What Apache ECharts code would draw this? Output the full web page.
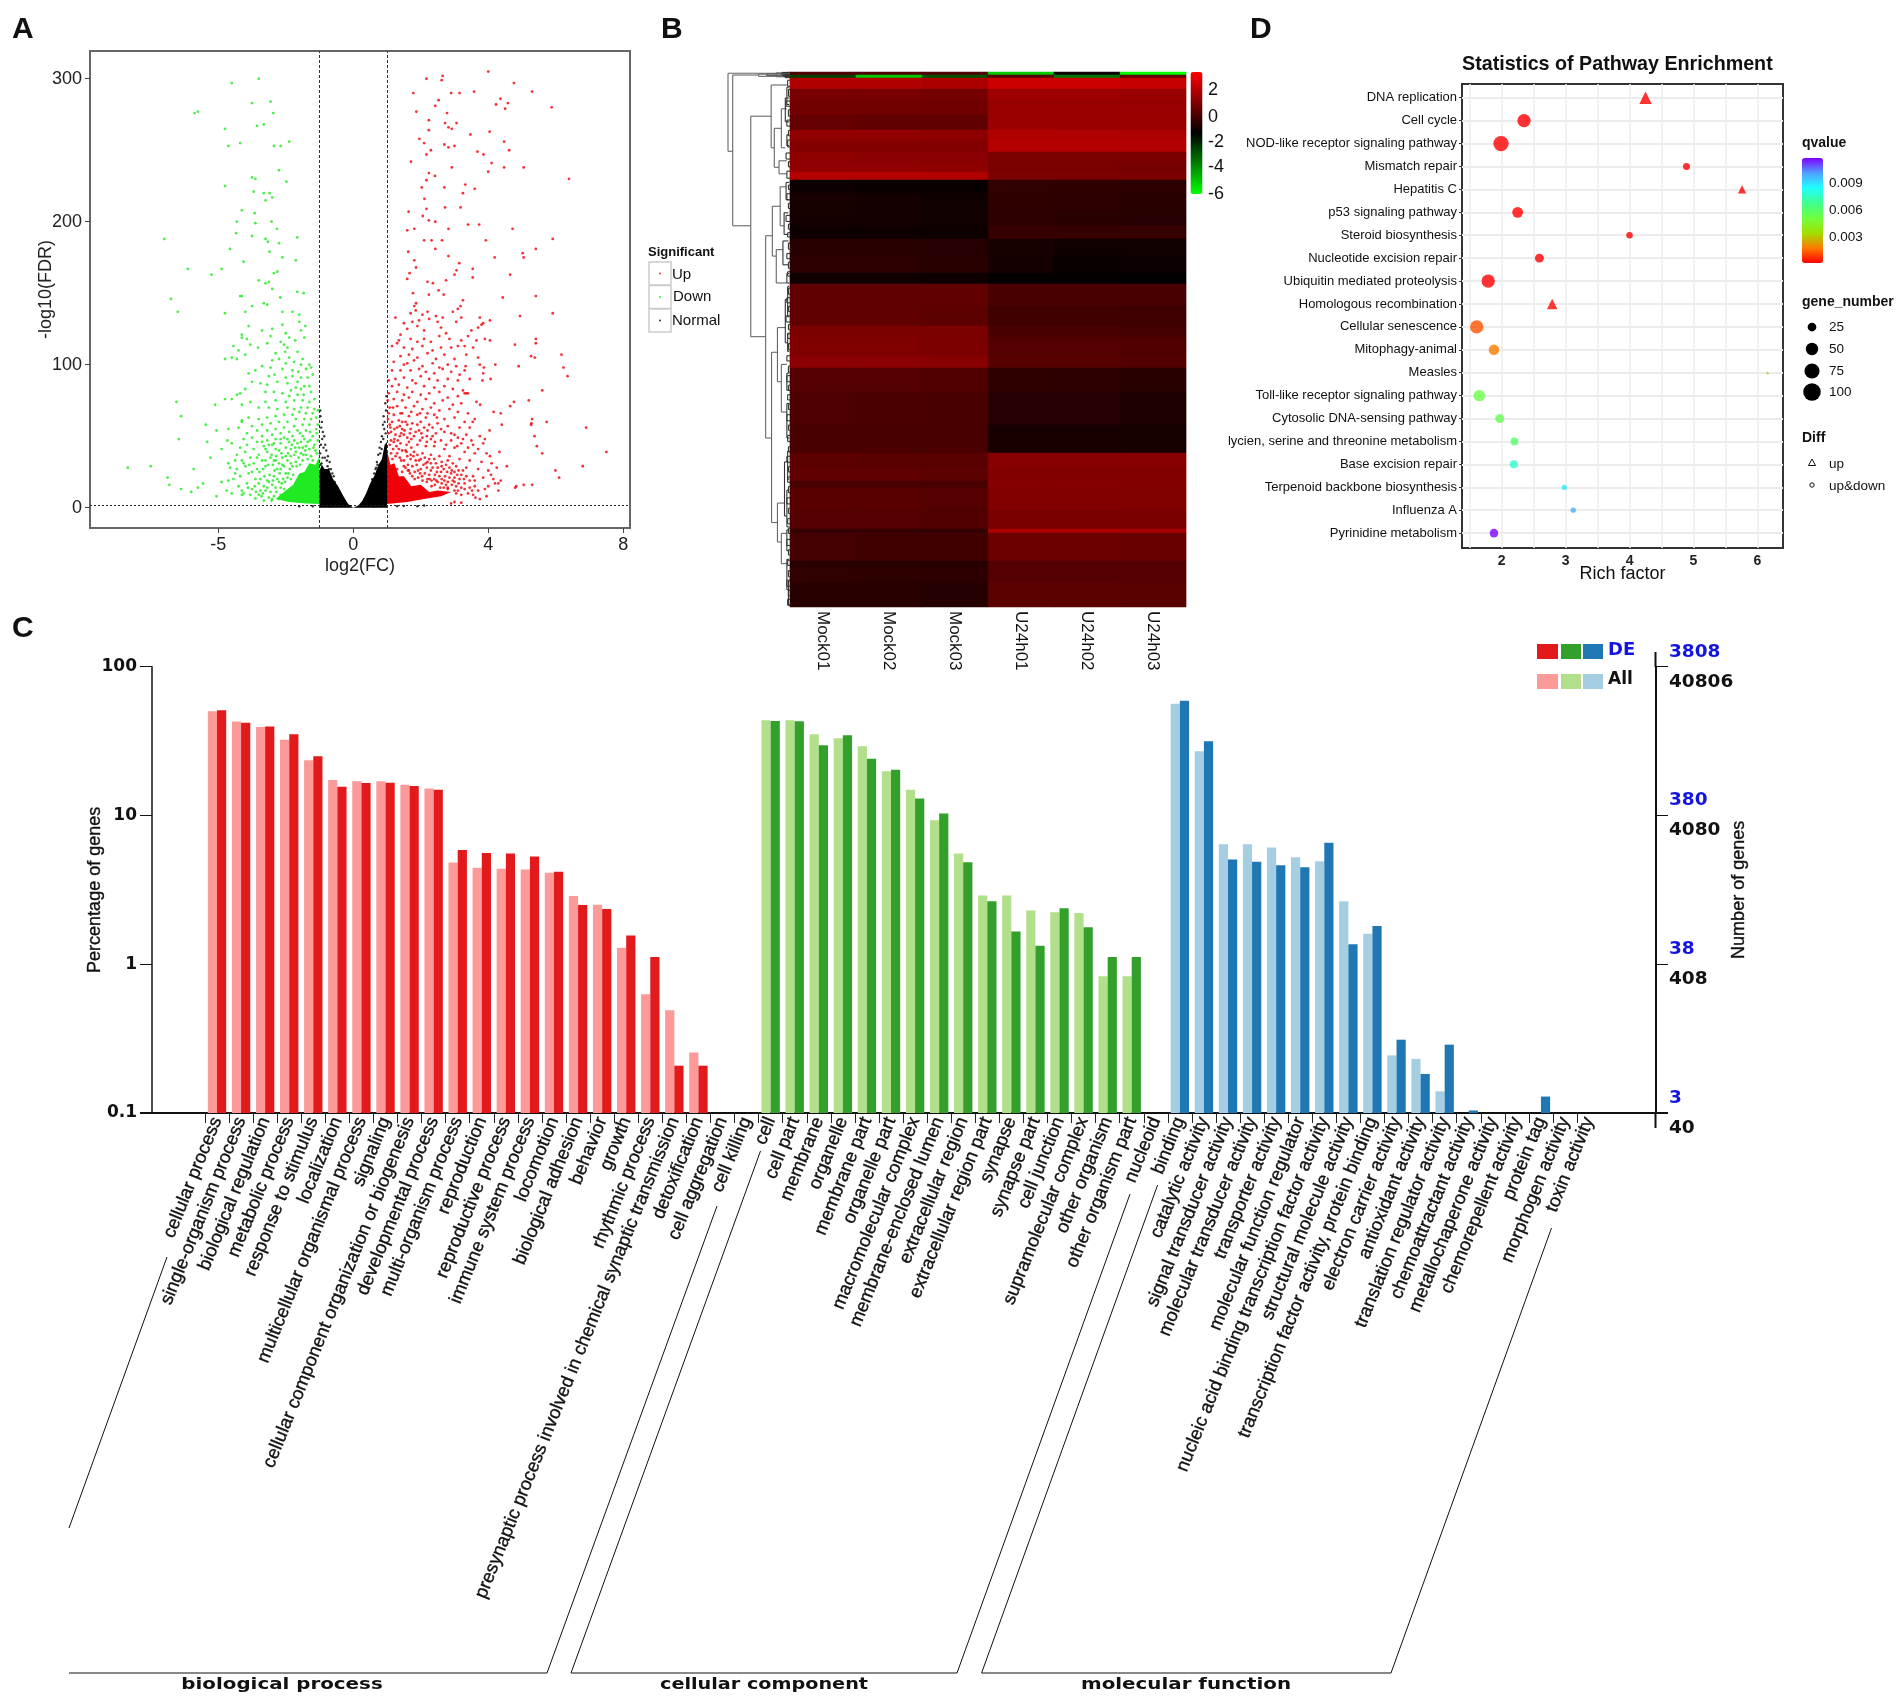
<!DOCTYPE html>
<html><head><meta charset="utf-8">
<style>html,body{margin:0;padding:0;background:#fff}#c{width:1904px;height:1700px}</style>
<script src="https://cdn.jsdelivr.net/npm/echarts@6/dist/echarts.min.js"></script>
</head><body><div id="c"></div>
<script>
/* ---------- Panel A: volcano ---------- */
const volcanoXTicks=[-4,0,4,8];
const volcanoXTickText={'-4':'-5','0':'0','4':'4','8':'8'};
const volcanoYTicks=[0,100,200,300];
const normalCore=[[-1,0],[-1,26],[-0.93,30],[-0.85,27],[-0.72,27],[-0.6,20],[-0.45,15],[-0.29,8],[-0.15,2.5],[0,0],[0.15,1.5],[0.26,4.5],[0.38,10],[0.5,17],[0.62,22],[0.75,30],[0.85,34],[0.93,44],[1,46],[1,0]];
const downCore=[[-1,2.5],[-1,36],[-1.12,30],[-1.3,31],[-1.45,25],[-1.6,24],[-1.78,16],[-2,12],[-2.3,6],[-1.9,4],[-1.4,3]];
const upCore=[[1,2.5],[1,40],[1.1,30],[1.22,31],[1.35,22],[1.5,22],[1.72,15],[2.0,16],[2.25,11],[2.5,12],[2.9,11],[2.6,8],[2.1,6],[1.6,4]];
const normalDots=[[-0.98,68],[-0.97,64],[-0.93,60],[-0.95,56],[-0.9,53],[-0.86,50],[-0.92,48],[-0.83,44],[-0.8,40],[-0.88,42],[-0.75,36],[-0.7,32],[-0.78,33],[-0.66,27],[-0.72,27],[-0.62,24],[-0.55,18],[-0.5,15],[-0.58,22],[-0.42,10],[-0.96,44],[-0.98,38],[-0.91,35],[-0.94,31],[-0.84,35],[-0.76,29],[-0.97,30],[0.98,78],[0.95,73],[0.97,68],[0.9,64],[0.93,60],[0.88,58],[0.92,55],[0.85,50],[0.82,46],[0.89,48],[0.78,42],[0.74,37],[0.8,38],[0.7,32],[0.66,27],[0.72,30],[0.62,24],[0.56,20],[0.5,14],[0.58,19],[0.44,10],[0.35,6],[0.96,52],[0.84,41],[0.68,28],[-1.2,1],[-1.6,1],[-0.7,1],[1.3,1],[1.9,1],[0.6,1],[1.5,1.2],[2.1,1.5]];
const downDots=[[-2.8,300],[-3.6,297],[-3,283],[-2.45,284],[-2.37,276],[-4.6,277],[-4.7,276],[-3.8,265],[-2.65,268],[-2.85,267],[-1.9,256],[-3.35,255],[-3.7,253],[-2.35,253],[-2.15,253],[-2.2,236],[-3,231],[-2.9,230],[-1.98,228],[-3.8,225],[-2.95,221],[-2.65,220],[-2.48,220],[-2.4,217],[-2.6,215],[-3.3,208],[-2.92,206],[-3.45,200],[-2.9,199],[-2.42,200],[-2.26,195],[-3.47,192],[-3,190],[-2.6,188],[-2.53,186],[-1.66,189],[-5.6,188],[-2.2,185],[-3.65,181],[-2.48,179],[-2.1,175],[-3.25,172],[-1.7,173],[-4.9,167],[-3.9,167],[-4.2,163],[-2.35,164],[-2.25,165],[-2.8,159],[-2.6,157],[-2.5,158],[-2.4,153],[-1.66,151],[-1.47,150],[-3.35,148],[-3.3,148],[-2.16,147],[-5.4,146],[-2.65,143],[-2.55,142],[-3,141],[-3.2,137],[-3.8,136],[-5.2,137],[-2.1,137],[-1.8,137],[-1.6,135],
[-1.6,130],[-1.42,127],[-2.1,128],[-2.4,125],[-2.7,124],[-3.1,127],[-3.3,121],[-2.0,122],[-1.9,119],[-1.72,117],[-1.55,124],[-3.15,118],[-3.05,114],[-2.45,120],[-2.15,116],[-2.05,114],[-1.95,112],[-1.45,119],[-2.55,115],[-2.82,112],[-3.4,110],[-3.6,105],[-3.45,104],[-3.2,107],[-2.3,108],[-2.02,109],[-1.9,105],[-1.65,109],[-1.5,104],[-2.4,103],[-2.2,104],[-2.0,101],[-1.75,102],[-1.55,100],[-1.3,100],[-1.25,98],[-1.4,97],[-1.63,95],[-1.8,96],[-2.1,97],[-2.45,98],[-2.7,99],[-2.9,96],[-3.1,94],[-2.5,92],[-2.33,93],[-2.0,91],[-1.8,92],[-1.55,91],[-1.35,91],[-1.2,93],[-3.0,88],[-2.75,87],[-2.55,86],[-2.25,88],[-1.95,87],[-1.65,88],[-1.45,85],[-1.7,84],[-1.85,82],[-1.55,83],[-1.3,85],[-3.2,83],[-3.35,80],[-2.6,81],[-2.35,81],[-2.1,80],[-1.9,78],[-1.65,79],[-1.47,79],[-1.25,81],[-1.15,76],[-1.3,74],[-1.5,75],[-1.75,75],[-2.0,74],[-2.3,75],[-2.6,74],[-3.05,74],[-3.6,76],[-3.3,72],[-2.8,70],[-2.5,70],[-2.25,69],[-1.95,70],[-1.75,69],[-1.55,70],[-1.35,70],[-1.15,69],[-1.05,68],[-1.2,66],[-1.4,66],[-1.6,67],[-1.8,65],[-2.05,65],[-2.3,64],[-2.55,63],[-2.8,62],[-3.1,63],[-3.3,60],[-1.1,63],[-1.25,62],[-1.45,62],[-1.7,62],[-1.95,60],[-2.2,60],[-2.45,59],[-2.7,58],[-3.0,57],[-3.4,56],[-1.05,58],[-1.3,58],[-1.5,58],[-1.75,57],[-2.05,56],[-2.3,55],[-2.55,54],[-2.85,54],[-3.15,52],[-1.1,55],[-1.4,54],[-1.65,54],[-1.9,53],[-2.15,52],[-2.4,51],[-2.7,50],[-3.0,49],[-3.25,48],[-1.2,50],[-1.5,50],[-1.8,50],[-2.05,49],[-2.3,48],[-2.55,47],[-2.85,46],[-3.15,44],[-3.35,42],[-1.9,46],[-2.15,45],[-2.4,44],[-2.65,43],[-2.95,41],[-3.2,39],[-3.45,37],[-2.3,41],[-2.55,39],[-2.8,37],[-3.05,35],[-3.3,33],[-2.45,35],[-2.7,33],[-2.95,31],[-3.2,29],[-3.45,27],[-2.6,29],[-2.85,27],[-3.1,24],[-3.35,22],[-3.55,20],[-2.9,20],[-3.15,17],[-3.4,15],[-3.0,13],[-3.25,10],[-2.8,9],[-1.6,42],[-1.75,37],[-1.4,43],[-2.0,36],[-2.1,30],[-1.85,31],[-2.25,27],[-2.35,22],[-2.5,18],[-2.65,15],[-2.2,18],[-2.75,12],
[-2.2,6],[-2.35,8],[-2.5,7],[-2.6,12],[-2.45,11],[-2.3,14],[-2.15,9],[-2.05,13],[-2.72,8],[-2.9,6.5],[-3.05,9],[-2.8,17],[-2.55,19],[-2.4,16],[-2.25,20],[-2.12,17],[-1.95,21],[-2.0,24],[-2.18,24],[-2.33,26],[-2.48,23],[-2.63,22],[-2.78,25],[-2.92,15],[-3.12,14],[-3.3,12],[-1.88,27],[-2.05,29],[-2.2,31],[-2.38,30],[-2.6,33],[-2.42,37],[-2.28,36],[-2.1,35],[-1.95,33],[-1.8,29],[-1.7,32],[-1.62,35],[-1.5,33],[-1.85,36],[-1.7,39],[-1.55,38],[-1.4,37],[-1.25,36],[-1.12,40],[-1.3,41],[-1.5,42],[-1.65,45],[-1.85,41],[-2.0,42],[-2.2,40],[-1.15,44],[-1.35,46],[-1.05,47],[-1.45,48],[-1.75,47],[-1.95,48],[-2.15,48],[-2.5,44],[-2.7,46],[-1.08,52],[-1.28,53],[-1.58,52],[-1.82,44],[-2.35,33],[-2.67,27],[-3.0,25],[-3.25,31],[-3.5,33],[-2.75,20],[-3.6,10],[-2.42,5],[-2.65,5],[-3.5,24],[-3.65,28],[-3.7,19],
[-1.92,24],[-1.85,20],[-2.08,20],[-2.15,14],[-2.28,11],[-2.4,6],[-1.78,23],[-1.68,29],[-1.58,30],[-1.48,37],[-1.35,34],[-1.2,33],[-1.08,38],[-1.18,42],[-1.42,40],[-1.72,42],[-1.93,38],[-2.13,38],[-2.3,33],[-2.52,30],[-2.15,27],[-2.02,18],[-2.55,14],[-2.38,19],[-2.68,10],[-2.88,11],[-1.28,47],[-1.55,46],[-2.35,45],[-2.6,41],[-2.85,35],[-3.08,30],
[-6.68,28],[-6,29],[-5.5,21],[-5.45,16],[-4.73,27],[-4.8,11],[-4.45,17],[-4.23,35],[-3.9,18],[-4.05,8],[-3.75,12],[-3.3,9],[-5.24,74],[-5.1,64],[-5.17,48],[-4.37,58],[-4.09,72],[-4.05,54],[-4.33,46],[-3.9,41],[-3.7,55],[-3.73,47],[-3.8,76],[-3.44,79],[-3.3,61],[-3.8,104],[-3.55,113],[-3.3,119],[-5.1,13],[-4.6,14],[-3.7,31],[-3.6,45]];
const upDots=[[4,305],[2.65,302],[2.17,300],[2.62,299],[4.76,297],[5.3,291],[1.78,290],[3.58,291],[2.9,290],[3.15,290],[2.53,285],[2.43,281],[4.36,286],[4.23,282],[4.58,283],[4.5,279],[5.88,280],[1.87,277],[2.78,276],[2.24,271],[2.72,269],[3.06,269],[2.82,266],[2.92,265],[2.24,264],[4.04,263],[3.47,261],[1.96,258],[2.1,255],[2.7,254],[2.82,252],[3,253],[4.47,256],[4.62,250],[2.3,250],[2.17,247],[3.68,249],[3.86,247],[1.71,242],[4.1,241],[4,235],[4.47,238],[5.05,238],[2.92,238],[6.39,230],[2.24,234],[2.42,232],[2.17,229],[2.03,224],[2.7,224],[3.6,223],[3.25,220],[3.32,226],[2.11,216],[3.18,210],[2.72,210],[2.17,209],[1.64,207],[2.06,204],[2.24,201],[2.43,200],[3.4,198],[3.73,198],[1.6,194],[1.81,195],[2.82,195],[4.72,195],[5.91,188],[3.93,187],[2.1,187],[2.32,187],[2.63,187],[2.43,181],[1.63,179],[5.41,181],[5.02,178],[5.05,175],[4.19,175],[2.82,176],[1.81,173],[3.14,171],[1.86,168],[3.06,166],[3.54,167],[1.67,164],[3,163],[4.65,163],[1.6,160],[2.2,158],[2.75,159],[2.36,157],[3.54,161],[2.53,152],[1.77,150],[2.24,149],[2.68,149],[5.41,148],[4.43,147],[3.25,145],[1.86,143],[3.18,141],[5.91,136],[1.81,141],[4.94,134],
[1.85,138],[1.7,136],[2.05,135],[2.2,137],[2.45,134],[2.95,137],[3.1,139],[3.2,133],[1.75,130],[1.95,131],[2.25,132],[2.5,130],[2.65,133],[3.05,130],[3.75,133],[3.85,129],[4.05,131],[1.25,133],[1.5,129],[1.6,125],[1.4,121],[1.9,127],[2.1,124],[2.6,126],[2.75,122],[3.5,124],[3.8,128],[3.7,126],[1.35,117],[1.3,115],[1.7,118],[1.9,116],[2.1,118],[2.3,116],[2.55,120],[2.85,118],[3.2,117],[3.4,120],[3.65,117],[3.9,118],[4.05,117],[1.15,113],[1.5,112],[1.75,111],[2.05,113],[2.35,110],[2.6,112],[2.9,112],[3.1,113],[3.3,113],[3.55,112],[1.4,106],[1.65,107],[1.9,105],[2.2,108],[2.45,104],[2.7,107],[3.0,104],[3.35,107],[3.7,105],[1.2,102],[1.5,100],[1.6,101],[1.8,103],[2.05,99],[2.35,101],[2.55,98],[2.8,100],[3.05,99],[3.3,96],[3.75,100],[1.15,96],[1.4,96],[1.7,96],[1.95,97],[2.15,95],[2.4,94],[2.65,97],[2.9,95],[3.15,93],[3.85,94],[1.05,89],[1.25,90],[1.5,91],[1.75,89],[2.0,92],[2.25,90],[2.5,89],[2.8,90],[3.1,89],[3.45,90],[1.15,85],[1.35,86],[1.6,84],[1.85,87],[2.1,85],[2.4,84],[2.7,85],[2.95,83],[3.25,82],[1.05,80],[1.3,81],[1.5,79],[1.75,81],[2.0,79],[2.25,80],[2.55,81],[2.8,77],[3.1,78],[3.35,80],[1.02,75],[1.2,76],[1.45,75],[1.65,77],[1.9,74],[2.15,76],[2.4,73],[2.65,75],[2.95,72],[3.2,73],[3.65,74],[1.08,70],[1.3,71],[1.55,70],[1.8,71],[2.05,69],[2.3,70],[2.55,68],[2.85,69],[3.1,67],[3.4,66],[1.05,66],[1.2,65],[1.4,66],[1.65,64],[1.9,65],[2.15,63],[2.4,65],[2.7,62],[3.0,63],[3.3,60],[3.6,62],[1.03,62],[1.15,60],[1.35,61],[1.55,60],[1.75,59],[2.0,60],[2.25,58],[2.5,59],[2.8,57],[3.15,56],[3.45,56],[1.1,56],[1.3,56],[1.45,55],[1.7,55],[1.95,54],[2.2,54],[2.45,52],[2.7,53],[3.0,51],[3.35,51],[3.75,50],[1.05,52],[1.25,51],[1.5,51],[1.8,50],[2.05,49],[2.3,48],[2.6,47],[2.9,47],[3.2,45],[3.55,44],[3.85,45],[1.2,46],[1.4,45],[1.65,46],[1.9,44],[2.15,43],[2.4,43],[2.7,41],[3.0,42],[3.3,39],[3.6,38],[3.95,38],[1.35,41],[1.55,40],[1.8,39],[2.05,38],[2.3,37],[2.55,36],[2.85,36],[3.15,34],[3.45,33],[3.8,32],[4.1,31],[1.7,34],[1.95,33],[2.2,32],[2.45,31],[2.75,30],[3.05,29],[3.35,28],[3.7,27],[4.0,26],[2.0,27],[2.3,26],[2.6,25],[2.9,24],[3.2,23],[3.55,22],[3.85,21],[4.15,20],[2.4,20],[2.7,19],[3.0,18],[3.3,17],[3.6,15],[3.9,13],[4.2,17],[2.8,14],[3.1,12],[3.4,10],[3.7,12],[3.75,6],[3,4],[2.9,3],
[1.12,53],[1.22,48],[1.32,47],[1.42,52],[1.58,44],[1.72,42],[1.12,47],[1.28,43],[1.45,40],[1.6,36],[1.78,36],[1.9,37],[2.12,35],[2.25,34],[2.4,34],[2.62,32],[2.8,33],[2.95,31],[1.5,33],[1.62,30],[1.75,29],[1.88,30],[2.08,30],[2.18,28],[2.35,28],[2.5,28],[2.68,27],[2.85,28],[3.0,25],[3.12,26],[3.25,26],[1.65,26],[1.82,25],[1.98,24],[2.12,24],[2.25,23],[2.42,23],[2.55,22],[2.72,22],[2.85,21],[3.0,21],[3.15,20],[3.35,22],[3.45,19],[3.6,19],[2.2,20],[2.32,19],[2.5,18],[2.62,17],[2.75,16],[2.92,16],[3.05,15],[3.2,14],[3.3,13],[3.45,14],[3.52,12],[3.05,10],[3.2,9],[3.55,9],[3.62,7],[1.45,60],[1.6,58],[1.9,58],[2.1,56],[2.35,56],[2.6,55],[2.9,52],[3.1,49],[3.25,48],[3.5,47],[1.38,50],[1.6,49],[1.72,48],[1.98,47],[2.18,46],[2.42,46],[2.75,44],[3.08,43],[3.4,42],[3.7,41],[4.05,36],[4.25,28],[4.08,23],[4.3,12],[4.0,15],[3.95,8],[3.2,3.5],
[1.08,44],[1.18,41],[1.3,38],[1.42,33],[1.55,28],[1.68,24],[1.82,20],[1.92,21],[2.05,19],[2.18,18],[2.32,15],[2.42,16],[2.58,14],[2.68,14],[2.8,13],[3.0,12],[1.25,36],[1.38,35],[1.5,29],[1.62,26],[1.75,22],[1.12,38],[1.16,34],[1.3,27],[1.45,25],[1.92,26],[2.04,22],[2.26,20],[2.46,19],[2.62,20],[2.8,18],[2.95,19],[3.12,17],[1.58,39],[1.7,37],[1.85,33],[2.0,34],[2.15,31],[2.3,31],[2.48,25],[2.62,29],[2.78,25],[2.92,26],[3.08,23],[3.28,20],[1.08,58],[1.22,55],[1.38,57],[1.52,54],[1.68,52],[1.85,53],[2.02,52],[2.18,50],[2.35,50],[1.18,70],[1.45,66],[1.72,67],[1.98,66],[2.2,66],[2.48,63],
[7.5,39],[6.9,56],[6.8,29],[5.99,26],[6.1,21],[5.73,60],[5.28,59],[5.27,58],[5.37,50],[5.44,43],[5.6,38],[5.2,75],[5.6,82],[4.65,71],[4.76,74],[5.3,62],[4.83,15],[5.05,16],[5.3,16],[4.8,14],[4.55,29],[4.33,39],[4.37,19],[4.3,17],[6.17,107],[6.23,98],[6.35,92],[5.41,118],[5.41,115],[4.79,114],[5.27,106],[5.38,105],[4.9,99],[4.21,100],[3.87,98],[3.33,99],[3.83,89],[4.07,90],[3.4,80],[3.3,80],[4.16,67],[4.37,66],[4.4,58],[4.04,54],[3.9,48],[3.54,60],[3.76,72]];
/* ---------- Panel B: heat map ---------- */
const sampleNames=['Mock01','Mock02','Mock03','U24h01','U24h02','U24h03'];
const heatBandRows=[3,3,11,11,15,15,11,11,11,9,8,13,20,13,13,17,17,11,22,20,11,20,11,24,33,28,15,13,7,22,19,4,28,7,15,24];
const heatMock01=[0.2,-2.5,2.0,0.95,0.85,0.6,1.4,1.15,1.35,1.4,2.05,-1.05,-0.85,-0.9,-1.0,-0.5,-0.45,-0.95,0.55,0.5,1.0,1.1,1.3,0.3,0.15,0.05,0.45,0.5,0.1,0.35,0.3,-0.3,0.0,-0.5,-0.35,-0.5];
const heatMock02=[0.2,-5,2.0,0.95,0.85,0.55,1.4,1.15,1.3,1.4,2.05,-1.1,-0.9,-0.9,-1.0,-0.5,-0.45,-0.95,0.55,0.5,1.0,1.1,1.3,0.3,0.12,0.05,0.4,0.5,0.1,0.35,0.3,-0.3,-0.05,-0.5,-0.4,-0.5];
const heatMock03=[0.2,-2.8,1.9,0.9,0.8,0.55,1.35,1.15,1.3,1.35,2.0,-1.1,-0.95,-0.95,-1.05,-0.55,-0.5,-1.0,0.55,0.45,1.0,1.05,1.25,0.25,0.1,0.05,0.4,0.45,0.05,0.3,0.25,-0.35,-0.05,-0.55,-0.45,-0.6];
const heatU24h01=[-5,0.3,2.5,1.65,1.55,1.6,2.0,2.1,1.0,0.95,1.0,-0.35,-0.4,-0.45,-0.25,-0.85,-0.9,-1.2,0.1,-0.05,0.05,0.3,0.35,-0.4,-0.55,-0.8,1.25,1.15,1.2,1.15,0.95,1.9,0.7,0.3,0.3,0.45];
const heatU24h02=[-1,-3.5,2.5,1.65,1.55,1.55,2.0,2.1,1.0,0.95,1.0,-0.4,-0.45,-0.5,-0.3,-0.95,-1.1,-1.2,0.1,-0.05,0.05,0.3,0.35,-0.45,-0.55,-0.8,1.25,1.15,1.2,1.15,0.95,1.9,0.7,0.3,0.3,0.45];
const heatU24h03=[-6,0.5,2.4,1.6,1.5,1.55,1.95,2.05,0.95,0.9,1.0,-0.45,-0.5,-0.55,-0.3,-0.95,-1.05,-1.25,0.05,-0.1,0.0,0.25,0.3,-0.5,-0.7,-0.85,1.2,1.15,1.15,1.1,0.95,1.85,0.65,0.3,0.3,0.4];
const heatSamples=[heatMock01,heatMock02,heatMock03,heatU24h01,heatU24h02,heatU24h03];
/* dendrogram nodes: height, top leaf row, bottom leaf row, top child height, bottom child height */
const dendroNodes=[[222,168,348,380,234],[234,172,520,300,280],[300,170,175,380,380],[320,169,173,380,380],[345,167,176,380,380],[280,267,776,332,318],[332,195,340,372,340],[340,295,385,358,352],[358,250,340,372,368],[352,370,400,372,372],[368,225,280,378,378],[372,200,240,378,378],[372,310,335,378,378],[318,543,1010,335,333],[335,475,590,355,345],[355,430,520,370,365],[370,420,460,378,378],[365,490,540,376,376],[345,575,652,362,372],[362,555,610,376,376],[372,630,652,378,378],[333,812,1205,348,348],[348,755,880,368,358],[368,690,790,374,374],[358,840,950,372,372],[374,660,730,378,378],[374,770,810,378,378],[372,860,900,378,378],[372,930,1010,378,378],[348,1160,1250,366,358],[366,1065,1190,374,372],[374,1040,1105,378,378],[372,1130,1215,378,378],[358,1230,1300,372,372],[372,1222,1270,378,378],[372,1290,1360,378,378],[376,1340,1395,380,380]];
const dendroTwigs=[[360,166,6],[364,170,5],[368,172,6],[372,166,10],[374,184,14],[376,205,16],[370,232,12],[376,252,15],[372,276,14],[376,300,12],[374,322,16],[370,352,14],[376,372,12],[372,394,16],[376,426,10],[372,446,14],[376,468,12],[370,496,14],[376,516,12],[374,536,10],[376,560,14],[372,584,12],[376,604,14],[374,626,10],[376,664,14],[372,686,12],[376,706,12],[370,728,14],[376,748,12],[374,768,12],[376,792,14],[372,820,12],[376,844,14],[372,866,14],[376,888,12],[374,910,12],[376,932,12],[372,956,14],[376,980,12],[374,1004,14],[376,1030,12],[372,1052,14],[376,1076,12],[374,1100,12],[376,1122,14],[372,1148,14],[376,1172,12],[374,1196,12],[376,1218,12],[372,1244,14],[376,1268,12],[374,1292,12],[376,1316,14],[372,1338,14],[376,1362,12],[374,1382,14]];
/* ---------- Panel C: GO bars ---------- */
const goTerms=['cellular process','single-organism process','biological regulation','metabolic process','response to stimulus','localization','multicellular organismal process','signaling','cellular component organization or biogenesis','developmental process','multi-organism process','reproduction','reproductive process','immune system process','locomotion','biological adhesion','behavior','growth','rhythmic process','presynaptic process involved in chemical synaptic transmission','detoxification','cell aggregation','cell killing',
'cell','cell part','membrane','organelle','membrane part','organelle part','macromolecular complex','membrane-enclosed lumen','extracellular region','extracellular region part','synapse','synapse part','cell junction','supramolecular complex','other organism','other organism part','nucleoid',
'binding','catalytic activity','signal transducer activity','molecular transducer activity','transporter activity','molecular function regulator','nucleic acid binding transcription factor activity','structural molecule activity','transcription factor activity, protein binding','electron carrier activity','antioxidant activity','translation regulator activity','chemoattractant activity','metallochaperone activity','chemorepellent activity','protein tag','morphogen activity','toxin activity'];
const bpAll=[50.1,42.9,39.3,32.3,23.5,17.3,17,17,16.1,15.2,4.82,4.46,4.39,4.34,4.12,2.88,2.51,1.29,0.628,0.49,0.255,null,null];
const bpDE=[50.9,42,39.7,35.1,25,15.6,16.5,16.6,15.8,14.9,5.86,5.6,5.56,5.29,4.19,2.5,2.35,1.56,1.12,0.208,0.208,null,null];
const ccAll=[43.6,43.6,35.1,33,29.2,19.8,14.9,9.27,5.56,2.9,2.9,2.3,2.24,2.21,0.83,0.83,null];
const ccDE=[43.2,43,29.6,34.6,24.1,20.3,13,10.3,4.84,2.65,1.66,1.33,2.38,1.77,1.12,1.12,null];
const mfAll=[56.4,27,6.4,6.4,6.1,5.24,4.92,2.65,1.6,0.244,0.231,0.14,null,null,null,null,null,null];
const mfDE=[59.1,31.5,5.05,4.89,4.62,4.48,6.56,1.36,1.81,0.311,0.183,0.288,0.104,null,null,0.129,null,null];
const rightTickDE={'100':'3808','10':'380','1':'38','0.1':'3'};
const rightTickAll={'100':'40806','10':'4080','1':'408','0.1':'40'};
/* ---------- Panel D: pathway enrichment ---------- */
const pathwayNames=['DNA replication','Cell cycle','NOD-like receptor signaling pathway','Mismatch repair','Hepatitis C','p53 signaling pathway','Steroid biosynthesis','Nucleotide excision repair','Ubiquitin mediated proteolysis','Homologous recombination','Cellular senescence','Mitophagy-animal','Measles','Toll-like receptor signaling pathway','Cytosolic DNA-sensing pathway','lycien, serine and threonine metabolism','Base excision repair','Terpenoid backbone biosynthesis','Influenza A','Pyrinidine metabolism'];
const richFactor=[4.25,2.35,1.99,4.89,5.76,2.25,4.0,2.59,1.79,2.79,1.61,1.88,6.16,1.65,1.97,2.2,2.19,2.98,3.12,1.88];
const geneNumber=[50,58,76,16,22,38,14,26,58,36,58,36,3,43,26,20,22,9,9,24];
const qValue=[0,0,0,0,0,0,0,0,0,0.0001,0.0011,0.0017,0.003,0.0052,0.0054,0.0060,0.0076,0.0088,0.0098,0.0117];
const diffClass=['up','ud','ud','ud','up','ud','ud','ud','ud','up','ud','ud','up','ud','ud','ud','ud','ud','ud','ud'];
const richTicks=[2,3,4,5,6];
const richGrid=[1.5,2,2.5,3,3.5,4,4.5,5,5.5,6];

const F='"Liberation Sans",Arial,sans-serif', FW='"DejaVu Sans",sans-serif';
const RED='#f00008',GREEN='#22ea22';
const geneSize=n=>1.75*Math.sqrt(n);
const GO_LOG_SCALE=10; /* bars rise from the axis foot: the log axis base 1 stands for 0.1 % */
const heatData=[];let rowCursor=0;
heatBandRows.forEach((n,b)=>{for(let r=0;r<n;r++){heatSamples.forEach((s,c)=>heatData.push([c,rowCursor,s[b]]));rowCursor++;}});
const rowNames=Array.from({length:rowCursor},(_,i)=>String(i));
const dendroSegs=[];
dendroNodes.forEach(([h,a,b,ca,cb])=>{dendroSegs.push([h,a,h,b],[h,a,ca,a],[h,b,cb,b]);});
dendroTwigs.forEach(([h,y,d])=>{dendroSegs.push([h,y,h,y+d],[h,y,380,y],[h,y+d,380,y+d]);});
const polygonSeries=(pts,color)=>({type:'custom',xAxisIndex:0,yAxisIndex:0,silent:true,clip:true,data:pts,
  encode:{x:0,y:1},renderItem:(p,api)=>p.dataIndex?null:{type:'polygon',shape:{points:pts.map(q=>api.coord(q))},style:{fill:color}}});
const dots=(pts,color,extra)=>Object.assign({type:'scatter',xAxisIndex:0,yAxisIndex:0,symbolSize:2.8,silent:true,large:false,data:pts,itemStyle:{color}},extra||{});
const goBars=(seq,i0,color)=>seq.map((v,i)=>v==null?null:{value:[i0+i,v*GO_LOG_SCALE],itemStyle:{color}}).filter(Boolean);
const allBars=[...goBars(bpAll,0,'#fb9a99'),...goBars(ccAll,23,'#b2df8a'),...goBars(mfAll,40,'#a6cee3')];
const deBars=[...goBars(bpDE,0,'#e31a1c'),...goBars(ccDE,23,'#33a02c'),...goBars(mfDE,40,'#1f78b4')];
const pathwayPoints=k=>pathwayNames.map((n,i)=>[richFactor[i],i,geneNumber[i],qValue[i],n]).filter((d,i)=>diffClass[i]===k);

const series=[
 polygonSeries(downCore,GREEN),polygonSeries(upCore,RED),
 dots(downDots,GREEN),
 dots(upDots,RED),
 polygonSeries(normalCore,'#000'),
 dots(normalDots,'#000',{symbolSize:2.4,markLine:{silent:true,symbol:'none',label:{show:false},animation:false,data:[
   {xAxis:-1,lineStyle:{type:[3,2],color:'#333',width:1}},{xAxis:1,lineStyle:{type:[3,2],color:'#333',width:1}},
   {yAxis:2,lineStyle:{type:[2,2],color:'#222',width:1.2}}]}}),
 {type:'heatmap',xAxisIndex:1,yAxisIndex:1,data:heatData,progressive:0,silent:true,itemStyle:{borderWidth:0}},
 {type:'custom',xAxisIndex:2,yAxisIndex:2,silent:true,data:dendroSegs,clip:false,encode:{x:[0,2],y:[1,3]},
  renderItem:(p,api)=>{const a=api.coord([api.value(0),api.value(1)]),b=api.coord([api.value(2),api.value(3)]);
   return {type:'line',shape:{x1:a[0],y1:a[1],x2:b[0],y2:b[1]},style:{stroke:api.value(0)>=360?'#333':'#666',lineWidth:1.1}};}},
 {type:'bar',name:'All',xAxisIndex:3,yAxisIndex:3,data:allBars,barWidth:9.2,barGap:'0%',silent:true},
 {type:'bar',name:'DE',xAxisIndex:3,yAxisIndex:3,data:deBars,barWidth:9.2,barGap:'0%',silent:true},
 {type:'scatter',name:'up',xAxisIndex:4,yAxisIndex:5,symbol:'triangle',symbolSize:d=>geneSize(d[2]),data:pathwayPoints('up'),silent:true},
 {type:'scatter',name:'up&down',xAxisIndex:4,yAxisIndex:5,symbol:'circle',symbolSize:d=>geneSize(d[2]),data:pathwayPoints('ud'),silent:true}
];
const T=(text,x,y,o,sx)=>({type:'text',x,y,scaleX:sx||1,silent:true,style:Object.assign({text,font:`15px ${F}`,fill:'#111',textAlign:'left',textVerticalAlign:'middle'},o||{})});
const L=(x1,y1,x2,y2,w,c)=>({type:'line',silent:true,shape:{x1,y1,x2,y2},style:{stroke:c||'#111',lineWidth:w||1}});
const R=(x,y,w,h,fill,stroke)=>({type:'rect',silent:true,shape:{x,y,width:w,height:h},style:{fill,stroke:stroke||null,lineWidth:stroke?1.5:0}});
const Cir=(cx,cy,r,fill,stroke)=>({type:'circle',silent:true,shape:{cx,cy,r},style:{fill,stroke:stroke||null,lineWidth:1}});
const graphic=[
 T('A',12,30,{font:`bold 30px ${F}`}),T('B',661,30,{font:`bold 30px ${F}`}),T('C',12,629,{font:`bold 30px ${F}`}),T('D',1250,30,{font:`bold 30px ${F}`}),
 /* significant legend */
 T('Significant',648,252.5,{font:`bold 13px ${F}`}),
 R(649,262,22,23,'#fff','#ccc'),R(649,285.5,22,23,'#fff','#ccc'),R(649,309,22,23,'#fff','#ccc'),
 Cir(660,273.5,.9,'#e22'),Cir(660,297,.9,'#2e2'),Cir(660,320.5,.9,'#222'),
 T('Up',672,275,{font:`15px ${F}`}),T('Down',673,297,{font:`15px ${F}`}),T('Normal',672,320.5,{font:`15px ${F}`}),
 /* heat colour bar labels */
 ...[['2',90],['0',117],['-2',142],['-4',167],['-6',194]].map(([s,y])=>T(s,1208,y,{font:`18px ${F}`})),
 /* panel C extras */
 L(140,1113,152,1113,2,'#111'),L(1656,1113,1668,1113,2,'#111'),L(1655.5,652,1655.5,667,2,'#111'),L(1655.5,1113,1655.5,1128,2,'#111'),
 R(1537,644,21,15,'#e31a1c'),R(1561,644,20,15,'#33a02c'),R(1583,644,20,15,'#1f78b4'),
 R(1537,674,21,15,'#fb9a99'),R(1561,674,20,15,'#b2df8a'),R(1583,674,20,15,'#a6cee3'),
 T('DE',1608,650,{font:`bold 18px ${FW}`,fill:'#1414e0'}),T('All',1608,680,{font:`bold 17px ${FW}`,fill:'#111'}),
 /* bracket lines */
 {type:'polyline',silent:true,shape:{points:[[167,1257],[69,1528]]},style:{stroke:'#111',fill:null,lineWidth:1}},
 {type:'polyline',silent:true,shape:{points:[[69,1673],[547,1673],[717,1206]]},style:{stroke:'#111',fill:null,lineWidth:1}},
 {type:'polyline',silent:true,shape:{points:[[760.5,1151],[571,1673],[957,1673],[1130,1194]]},style:{stroke:'#111',fill:null,lineWidth:1}},
 {type:'polyline',silent:true,shape:{points:[[1157.6,1185],[981.6,1673],[1391,1673],[1551.5,1228]]},style:{stroke:'#111',fill:null,lineWidth:1}},
 T('biological process',282,1685,{font:`bold 16px ${FW}`,textAlign:'center'},1.24),
 T('cellular component',764,1685,{font:`bold 16px ${FW}`,textAlign:'center'},1.2),
 T('molecular function',1186,1685,{font:`bold 16px ${FW}`,textAlign:'center'},1.24),
 /* panel D extras */
 T('Statistics of Pathway Enrichment',1462,65,{font:`bold 19.7px ${F}`}),
 T('qvalue',1802,143,{font:`bold 14px ${F}`}),
 L(1802,182,1806,182,1,'#fff'),L(1819,182,1823,182,1,'#fff'),L(1802,209,1806,209,1,'#fff'),L(1819,209,1823,209,1,'#fff'),L(1802,236,1806,236,1,'#fff'),L(1819,236,1823,236,1,'#fff'),
 T('0.009',1829,183,{font:`13.5px ${F}`}),T('0.006',1829,210,{font:`13.5px ${F}`}),T('0.003',1829,237,{font:`13.5px ${F}`}),
 T('gene_number',1802,302,{font:`bold 14px ${F}`}),
 ...[[327,25],[349,50],[371,75],[392,100]].map(([y,n])=>Cir(1812,y,geneSize(n)/2,'#000')),
 ...[[327,'25'],[349,'50'],[371,'75'],[392,'100']].map(([y,s])=>T(s,1829,y,{font:`13.5px ${F}`})),
 T('Diff',1802,438,{font:`bold 14px ${F}`}),
 {type:'polygon',silent:true,shape:{points:[[1812,459],[1815.5,465.5],[1808.5,465.5]]},style:{fill:null,stroke:'#111',lineWidth:1}},
 Cir(1812,485,2.2,null,'#111'),
 T('up',1829,464,{font:`13.5px ${F}`}),T('up&down',1829,486,{font:`13.5px ${F}`})
];
const heavy={textBorderColor:'#111',textBorderWidth:0.35};
const option={
 animation:false,backgroundColor:'#fff',textStyle:{fontFamily:F},
 grid:[
  {left:90,top:51,width:540,height:477,show:true,borderColor:'#666',borderWidth:2,backgroundColor:'#fff'},
  {left:790,top:72,width:396,height:535},
  {left:728,top:72,width:62,height:535},
  {left:152,top:666.7,width:1504,height:446.3},
  {left:1462,top:84,width:321,height:464,show:true,borderColor:'#333',borderWidth:2,backgroundColor:'#fff'}
 ],
 xAxis:[
  {type:'value',gridIndex:0,min:-7.8,max:8.2,name:'log2(FC)',nameLocation:'middle',nameMoveOverlap:false,nameGap:29,nameTextStyle:{fontSize:18,color:'#222'},
   axisLine:{show:false,onZero:false},splitLine:{show:false},axisTick:{customValues:volcanoXTicks,length:5,lineStyle:{color:'#444'}},
   axisLabel:{customValues:volcanoXTicks,formatter:v=>volcanoXTickText[v],fontSize:18,color:'#222',margin:8}},
  {type:'category',gridIndex:1,data:sampleNames,axisLine:{show:false},axisTick:{show:false},
   axisLabel:{rotate:-90,fontSize:17,color:'#111',margin:4}},
  {type:'value',gridIndex:2,min:222,max:380,show:false},
  {type:'value',gridIndex:3,min:-2.7,max:59.78,axisLine:{onZero:false,lineStyle:{color:'#111',width:2}},splitLine:{show:false},
   axisTick:{customValues:goTerms.map((_,i)=>i-0.5),length:10,lineStyle:{color:'#222',width:1}},
   axisLabel:{customValues:goTerms.map((_,i)=>i),formatter:v=>goTerms[Math.round(v)],rotate:68,fontSize:18.5,color:'#111',margin:5,hideOverlap:false,...heavy}},
  {type:'value',gridIndex:4,min:1.38,max:6.4,name:'Rich factor',nameLocation:'middle',nameMoveOverlap:false,nameGap:17,nameTextStyle:{fontSize:18,color:'#111'},
   axisLine:{show:false,onZero:false},axisTick:{show:false,customValues:richGrid},splitLine:{show:true,lineStyle:{color:'#ececec',width:1.5}},
   axisLabel:{customValues:richTicks,fontSize:14,color:'#222',margin:6,fontWeight:'bold'}}
 ],
 yAxis:[
  {type:'value',gridIndex:0,min:-14.2,max:319.4,name:'-log10(FDR)',nameLocation:'middle',nameMoveOverlap:false,nameGap:35,nameTextStyle:{fontSize:18,color:'#222'},
   axisLine:{show:false,onZero:false},splitLine:{show:false},axisTick:{customValues:volcanoYTicks,length:5,lineStyle:{color:'#444'}},
   axisLabel:{customValues:volcanoYTicks,fontSize:18,color:'#222',margin:8}},
  {type:'category',gridIndex:1,data:rowNames,inverse:true,show:false},
  {type:'value',gridIndex:2,min:165,max:1400,inverse:true,show:false},
  {type:'log',gridIndex:3,logBase:10,min:1,max:1000,name:'Percentage of genes',nameLocation:'middle',nameMoveOverlap:false,nameGap:48,nameRotate:90,nameTextStyle:{fontSize:18,color:'#111',...heavy},
   axisLine:{show:true,onZero:false,lineStyle:{color:'#111',width:1.5}},splitLine:{show:false},axisTick:{show:true,length:12,lineStyle:{color:'#111'}},
   axisLabel:{fontFamily:FW,fontWeight:'bold',fontSize:17,color:'#111',margin:15,formatter:v=>String(v/GO_LOG_SCALE)}},
  {type:'log',gridIndex:3,logBase:10,min:1,max:1000,position:'right',name:'Number of genes',nameLocation:'middle',nameMoveOverlap:false,nameGap:74,nameRotate:90,nameTextStyle:{fontSize:18,color:'#111',...heavy},
   axisLine:{show:true,onZero:false,lineStyle:{color:'#111',width:2}},splitLine:{show:false},axisTick:{show:true,length:12,lineStyle:{color:'#111'}},
   axisLabel:{margin:13,align:'left',formatter:v=>`{b|${rightTickDE[String(v/GO_LOG_SCALE)]}}\n{k|${rightTickAll[String(v/GO_LOG_SCALE)]}}`,
     rich:{b:{fontFamily:FW,fontWeight:'bold',fontSize:18.5,color:'#1414e0',lineHeight:30},k:{fontFamily:FW,fontWeight:'bold',fontSize:18.5,color:'#111',lineHeight:30}}}},
  {type:'value',gridIndex:4,min:-0.6,max:19.65,inverse:true,axisLine:{show:false,onZero:false},
   axisTick:{customValues:pathwayNames.map((_,i)=>i),length:3,lineStyle:{color:'#333'}},splitLine:{show:true,lineStyle:{color:'#ececec',width:2}},
   axisLabel:{customValues:pathwayNames.map((_,i)=>i),formatter:v=>pathwayNames[v],fontSize:13,color:'#111',margin:5}}
 ],
 visualMap:[
  {type:'continuous',seriesIndex:6,dimension:2,min:-6,max:3.45,left:1190.5,top:72,itemWidth:12,itemHeight:122,padding:0,calculable:false,hoverLink:false,realtime:false,
   inRange:{color:['#00ff00','#000000','#ff0000']},textStyle:{color:'transparent'}},
  {type:'continuous',seriesIndex:[10,11],dimension:3,min:0,max:0.0117,left:1802,top:158,itemWidth:21,itemHeight:105,padding:0,calculable:false,hoverLink:false,realtime:false,
   inRange:{color:['#ff0000','#ff7a00','#a0e000','#70ff40','#40ff90','#20ffff','#50a0ff','#7f00ff']},textStyle:{color:'transparent'}}
 ],
 series,graphic:{elements:graphic}
};
echarts.init(document.getElementById('c'),null,{renderer:'canvas'}).setOption(option);
</script></body></html>
